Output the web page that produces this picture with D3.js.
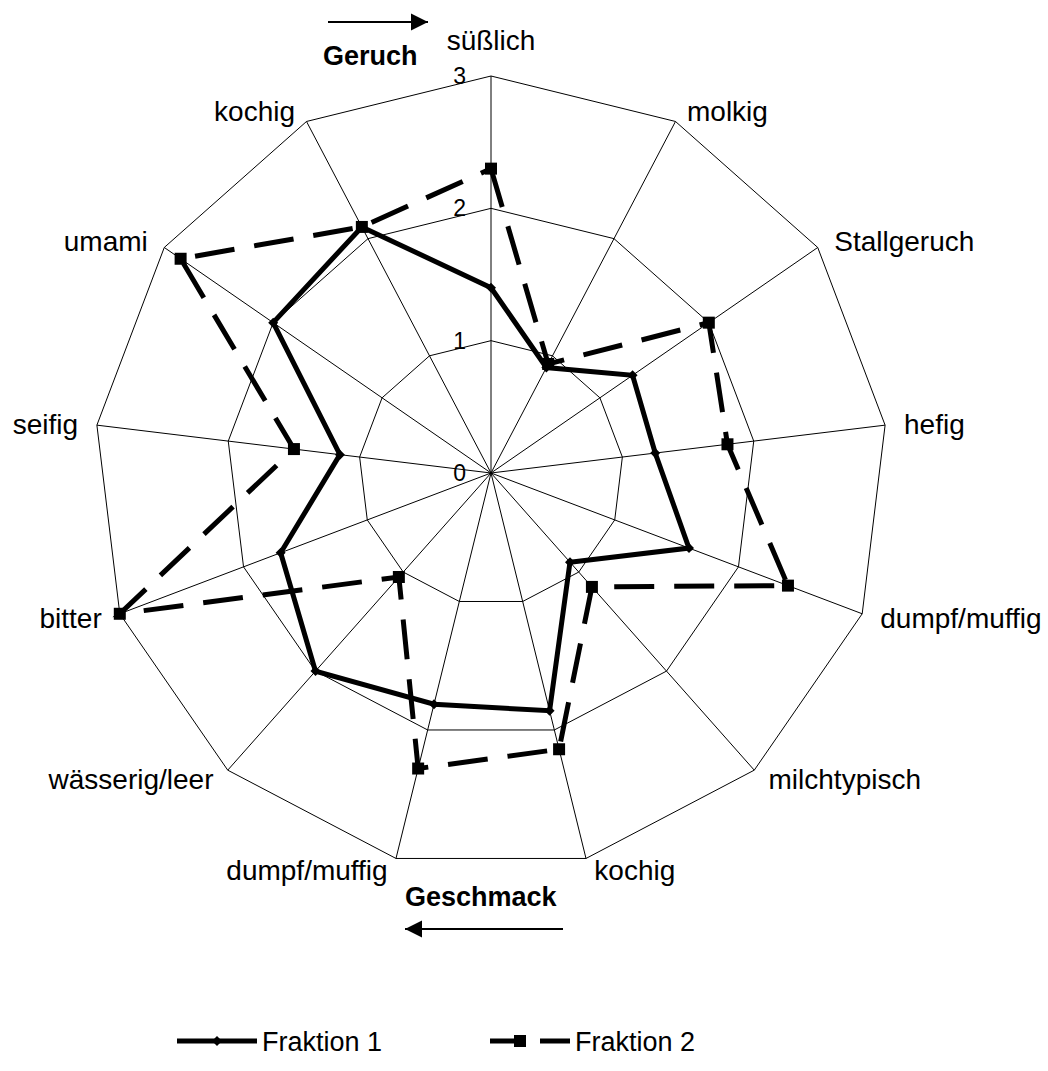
<!DOCTYPE html>
<html>
<head>
<meta charset="utf-8">
<script src="https://cdn.jsdelivr.net/npm/d3@7"></script>
<style>
  body { margin: 0; background: #fff; }
  text { font-family: "Liberation Sans", Arial, sans-serif; fill: #000; }
</style>
</head>
<body>
<div id="chart"></div>
<script>
// data
var categories = ["süßlich", "molkig", "Stallgeruch", "hefig", "dumpf/muffig", "milchtypisch",
    "kochig", "dumpf/muffig", "wässerig/leer", "bitter", "seifig", "umami", "kochig"];
var fraktion1 = [1.4, 0.9, 1.3, 1.25, 1.6, 0.9, 1.85, 1.8, 2.0, 1.7, 1.15, 2.0, 2.1];
var fraktion2 = [2.3, 0.93, 2.0, 1.8, 2.4, 1.15, 2.15, 2.3, 1.05, 3.0, 1.5, 2.85, 2.1];
var tickValues = [0, 1, 2, 3];
var seriesNames = ["Fraktion 1", "Fraktion 2"];

// svg
var svgWidth = 1048;
var svgHeight = 1071;
var cx = 491, cy = 473;

var svg = d3.select("#chart").append("svg")
    .attr("width", svgWidth)
    .attr("height", svgHeight);

var g = svg.append("g").attr("transform", `translate(${cx}, ${cy})`);

// scales
var rScale = d3.scaleLinear().domain([0, 3]).range([0, 397]);
var aScale = d3.scaleLinear().domain([0, categories.length]).range([0, 2 * Math.PI]);

var radial = d3.lineRadial()
    .angle((d, i) => aScale(i))
    .radius(d => rScale(d))
    .curve(d3.curveLinearClosed);

// rings
g.selectAll(".ring").data(tickValues.slice(1)).enter().append("path")
    .attr("d", v => radial(categories.map(() => v)))
    .attr("fill", "none")
    .attr("stroke", "#000")
    .attr("stroke-width", 1);

// spokes
g.selectAll(".spoke").data(categories).enter().append("line")
    .attr("x1", 0).attr("y1", 0)
    .attr("x2", (d, i) => rScale(3) * Math.sin(aScale(i)))
    .attr("y2", (d, i) => -rScale(3) * Math.cos(aScale(i)))
    .attr("stroke", "#000")
    .attr("stroke-width", 1);

// tick labels
g.selectAll(".tick").data(tickValues).enter().append("text")
    .attr("x", -25)
    .attr("y", v => -rScale(v))
    .attr("dy", "0.35em")
    .attr("text-anchor", "end")
    .style("font-size", "23px")
    .text(v => v);

// category labels
g.selectAll(".cat").data(categories).enter().append("text")
    .each(function(d, i) {
        var a = aScale(i), s = Math.sin(a), c = Math.cos(a);
        var vx = rScale(3) * s, vy = -rScale(3) * c;
        var t = d3.select(this);
        if (Math.abs(s) < 0.1) {
            t.attr("x", vx).attr("y", vy - 26).attr("text-anchor", "middle");
        } else {
            var dx = 5 + 14 * Math.abs(s);
            t.attr("x", s > 0 ? vx + dx : vx - dx)
             .attr("y", vy - 12 * c + 10)
             .attr("text-anchor", s > 0 ? "start" : "end");
        }
    })
    .style("font-size", "28px")
    .text(d => d);

// series lines
var series = [
    {name: seriesNames[0], values: fraktion1, dash: null},
    {name: seriesNames[1], values: fraktion2, dash: "40,20"}
];

g.selectAll(".series").data(series).enter().append("path")
    .attr("d", s => radial(s.values))
    .attr("fill", "none")
    .attr("stroke", "#000")
    .attr("stroke-width", 5)
    .attr("stroke-dasharray", s => s.dash);

// markers
var diamond = d3.symbol().type(d3.symbolSquare).size(50);
var square = d3.symbol().type(d3.symbolSquare).size(144);

g.selectAll(".m1").data(fraktion1).enter().append("path")
    .attr("d", diamond)
    .attr("transform", (d, i) => `translate(${rScale(d) * Math.sin(aScale(i))}, ${-rScale(d) * Math.cos(aScale(i))}) rotate(45)`);

g.selectAll(".m2").data(fraktion2).enter().append("path")
    .attr("d", square)
    .attr("transform", (d, i) => `translate(${rScale(d) * Math.sin(aScale(i))}, ${-rScale(d) * Math.cos(aScale(i))})`);

// Geruch / Geschmack with arrows
svg.append("defs").append("marker")
    .attr("id", "arrow")
    .attr("viewBox", "0 0 10 10")
    .attr("refX", 10).attr("refY", 5)
    .attr("markerWidth", 17).attr("markerHeight", 19)
    .attr("markerUnits", "userSpaceOnUse")
    .attr("orient", "auto")
    .append("path").attr("d", "M0,0L10,5L0,10Z").attr("fill", "#000");

svg.append("line")
    .attr("x1", 328).attr("y1", 22).attr("x2", 428).attr("y2", 22)
    .attr("stroke", "#000").attr("stroke-width", 2)
    .attr("marker-end", "url(#arrow)");

svg.append("text")
    .attr("x", 323).attr("y", 65)
    .style("font-size", "27px").style("font-weight", "bold")
    .text("Geruch");

svg.append("text")
    .attr("x", 405).attr("y", 906)
    .style("font-size", "27px").style("font-weight", "bold")
    .text("Geschmack");

svg.append("line")
    .attr("x1", 563).attr("y1", 929).attr("x2", 405).attr("y2", 929)
    .attr("stroke", "#000").attr("stroke-width", 2)
    .attr("marker-end", "url(#arrow)");

// legend
var legend = svg.selectAll(".legend").data(series).enter().append("g")
    .attr("transform", (d, i) => `translate(${i === 0 ? 177 : 490}, 1041)`);

legend.append("line")
    .attr("x1", 0).attr("x2", 80).attr("y1", 0).attr("y2", 0)
    .attr("stroke", "#000").attr("stroke-width", 5)
    .attr("stroke-dasharray", d => d.dash ? "34,16" : null);

legend.append("path")
    .attr("d", (d, i) => i === 0 ? diamond() : square())
    .attr("transform", (d, i) => i === 0 ? "translate(40,0) rotate(45)" : "translate(30,0)");

legend.append("text")
    .attr("x", 85).attr("y", 10)
    .style("font-size", "27px")
    .text(d => d.name);
</script>
</body>
</html>
